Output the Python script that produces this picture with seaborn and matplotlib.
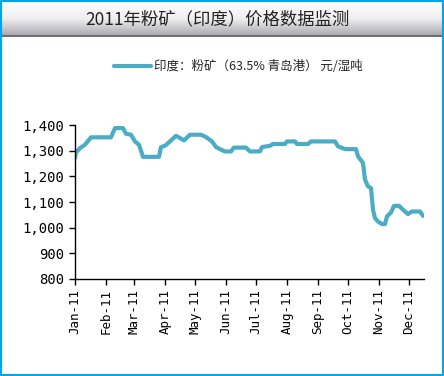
import numpy as np
import pandas as pd
import matplotlib
matplotlib.use("Agg")
import matplotlib.pyplot as plt
import matplotlib.dates as mdates
from matplotlib.ticker import FuncFormatter
from matplotlib.patches import Rectangle
import seaborn as sns

# 数据：印度粉矿 63.5% 青岛港价格（元/湿吨），按图读取的拐点
dates = ["2011-01-01", "2011-01-02", "2011-01-06", "2011-01-11", "2011-01-17",
         "2011-02-06", "2011-02-10", "2011-02-18", "2011-02-21", "2011-02-26",
         "2011-03-02", "2011-03-06", "2011-03-10", "2011-03-26", "2011-03-28",
         "2011-04-01", "2011-04-06", "2011-04-12", "2011-04-16", "2011-04-20",
         "2011-04-26", "2011-05-07", "2011-05-12", "2011-05-18", "2011-05-22",
         "2011-05-26", "2011-05-31", "2011-06-06", "2011-06-09", "2011-06-21",
         "2011-06-25", "2011-07-05", "2011-07-07", "2011-07-15", "2011-07-18",
         "2011-07-30", "2011-08-01", "2011-08-09", "2011-08-11", "2011-08-22",
         "2011-08-25", "2011-09-18", "2011-09-21", "2011-09-28", "2011-10-09",
         "2011-10-11", "2011-10-16", "2011-10-18", "2011-10-21", "2011-10-24",
         "2011-10-26", "2011-10-28", "2011-10-31", "2011-11-04", "2011-11-07",
         "2011-11-09", "2011-11-13", "2011-11-16", "2011-11-21", "2011-11-25",
         "2011-11-30", "2011-12-04", "2011-12-12", "2011-12-15"]
prices = [1272, 1293, 1310, 1323, 1352,
          1352, 1388, 1388, 1366, 1362,
          1336, 1323, 1276, 1276, 1314,
          1319, 1336, 1358, 1349, 1340,
          1362, 1362, 1353, 1336, 1314,
          1306, 1297, 1297, 1312, 1312,
          1297, 1297, 1314, 1319, 1326,
          1326, 1336, 1336, 1326, 1326,
          1336, 1336, 1317, 1306, 1306,
          1278, 1252, 1187, 1161, 1154,
          1070, 1037, 1024, 1014, 1014,
          1044, 1059, 1085, 1085, 1070,
          1053, 1063, 1063, 1046]
series_name = "印度：粉矿（63.5% 青岛港） 元/湿吨"
title = "2011年粉矿（印度）价格数据监测"

df = pd.DataFrame({"date": pd.to_datetime(dates), "price": prices})

sns.set_style("white")
plt.rcParams['font.family'] = ['Noto Sans CJK SC', 'DejaVu Sans']

fig = plt.figure(figsize=(4.44, 3.76), dpi=100)

# 标题栏（灰色渐变）
bar = fig.add_axes([0, 1 - 37 / 376, 1, 37 / 376])
grad = np.linspace(0, 1, 50).reshape(-1, 1)
bar.imshow(grad, aspect="auto", cmap=matplotlib.colors.LinearSegmentedColormap.from_list(
    "g", ["#ffffff", "#f0f0f2", "#a4a4ab"]), extent=[0, 1, 0, 1], origin="upper")
bar.axhline(0.02, color="#6e6e75", lw=1.5)
bar.set_axis_off()
bar.text(0.49, 0.48, title, ha="center", va="center", fontsize=12.5, color="#222222")

ax = fig.add_axes([75 / 444, 1 - 279 / 376, 349 / 444, 154 / 376])
sns.lineplot(data=df, x="date", y="price", ax=ax, color="#4BACC6", lw=3,
             label=series_name)

ax.set_ylim(800, 1400)
ax.set_yticks(range(800, 1401, 100))
ax.yaxis.set_major_formatter(FuncFormatter(lambda v, p: f"{int(v):,}"))
ax.set_xlim(pd.Timestamp("2011-01-01"), pd.Timestamp("2011-12-16"))
ax.xaxis.set_major_locator(mdates.MonthLocator())
ax.xaxis.set_major_formatter(mdates.DateFormatter("%b-%y"))
ax.set_xlabel("")
ax.set_ylabel("")
for lab in ax.get_xticklabels():
    lab.set_rotation(90)
    lab.set_family("DejaVu Sans Mono")
for lab in ax.get_yticklabels():
    lab.set_family("DejaVu Sans Mono")
ax.tick_params(axis="both", direction="out", length=4, width=1, colors="black",
               labelsize=10, left=True, bottom=True)
ax.tick_params(axis="x", labelsize=9)
sns.despine(ax=ax)
for s in ["left", "bottom"]:
    ax.spines[s].set_color("black")
    ax.spines[s].set_linewidth(1)

ax.legend(loc="center", bbox_to_anchor=(238 / 444, 1 - 67 / 376),
          bbox_transform=fig.transFigure, frameon=False, fontsize=9,
          handlelength=3.0, handletextpad=0.2)

# 外框
fig.add_artist(Rectangle((0, 0), 1, 1, transform=fig.transFigure, fill=False,
                         edgecolor="#00A6E8", lw=3))

fig.savefig("out.png", dpi=100)
